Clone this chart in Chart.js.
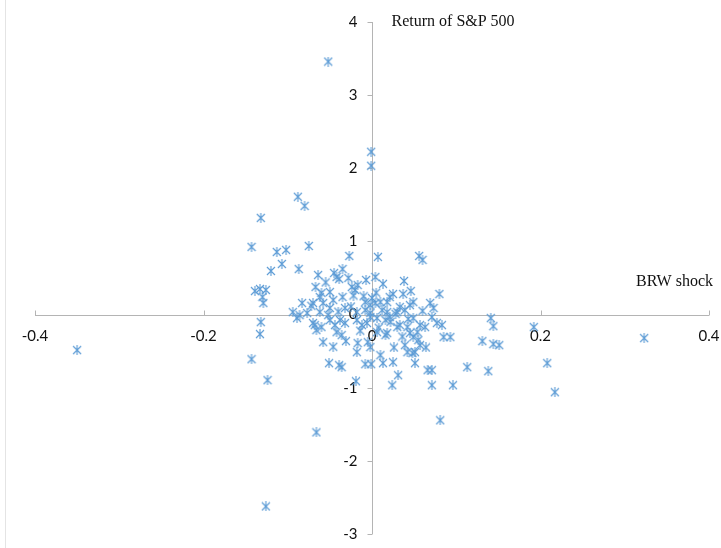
<!DOCTYPE html>
<html lang="en">
  <head>
    <meta charset="UTF-8" />
    <title>BRW shock vs S&amp;P 500</title>
    <style>
      html, body { margin: 0; padding: 0; background: #fff; }
      #wrap { position: relative; width: 721px; height: 548px; }
      #edge { position: absolute; left: 5px; top: 0; width: 1px; height: 548px; background: #e4e4e4; }
    </style>
  </head>
  <body>
    <div id="wrap">
      <div id="edge"></div>
      <canvas id="myChart" width="721" height="548"></canvas>
    </div>

    <script src="https://cdn.jsdelivr.net/npm/chart.js@4/dist/chart.umd.min.js"></script>
    <script>
      // BRW shock (x) and S&P 500 return (y)
      const brwShock = [
        -0.052, -0.001, -0.001, -0.088, -0.080, -0.132, -0.143, -0.113, -0.102, -0.075,
        -0.027, 0.007, 0.056, 0.060, -0.107, -0.120, -0.087, -0.064, -0.045, -0.042,
        -0.035, -0.039, -0.007, 0.004, 0.038, -0.067, -0.060, -0.050, -0.062, -0.024,
        -0.020, -0.017, -0.035, 0.046, 0.037, 0.080, 0.025, 0.021, 0.018, 0.000,
        0.004, 0.010, 0.049, 0.045, 0.069, 0.073, 0.033, 0.039, 0.030, 0.018,
        -0.139, -0.133, -0.126, -0.130, -0.129, -0.083, -0.070, -0.058, -0.050, -0.046,
        -0.032, -0.008, -0.002, -0.094, -0.086, -0.062, -0.052, -0.018, -0.008, -0.002,
        -0.077, -0.089, -0.132, -0.068, -0.070, -0.060, -0.066, -0.050, -0.044, -0.038,
        -0.032, -0.042, -0.036, -0.018, -0.012, -0.006, -0.002, -0.058, -0.031, -0.017,
        -0.005, -0.002, -0.018, -0.051, -0.039, -0.036, -0.008, -0.001, -0.019, 0.006,
        0.016, 0.021, 0.030, 0.033, 0.042, 0.049, 0.071, 0.077, 0.063, 0.057,
        0.006, 0.016, 0.018, 0.045, 0.049, 0.054, 0.055, 0.057, 0.085, 0.093,
        0.039, 0.042, 0.048, 0.051, 0.010, 0.013, 0.025, 0.051, 0.066, 0.071,
        0.113, 0.031, 0.024, 0.071, 0.096, 0.083, 0.141, 0.144, 0.131, 0.144,
        0.151, 0.192, 0.138, 0.208, 0.217, 0.081, -0.133, -0.143, -0.124, -0.066,
        -0.126, -0.350, 0.323,
        -0.010, 0.005, 0.012, -0.025, 0.022, 0.028, -0.040, 0.060, -0.055, -0.028,
        0.013, -0.014, 0.036, 0.064, -0.046, 0.026, 0.008, -0.072, -0.022, 0.043
      ];
      const spReturn = [
        3.459, 2.226, 2.034, 1.610, 1.486, 1.322, 0.925, 0.856, 0.884, 0.938,
        0.801, 0.788, 0.801, 0.747, 0.692, 0.596, 0.623, 0.541, 0.568, 0.514,
        0.623, 0.486, 0.473, 0.514, 0.459, 0.377, 0.295, 0.308, 0.240, 0.377,
        0.336, 0.404, 0.240, 0.322, 0.281, 0.281, 0.281, 0.240, 0.171, 0.226,
        0.158, 0.171, 0.171, 0.130, 0.158, 0.089, 0.103, 0.062, 0.034, 0.034,
        0.322, 0.349, 0.336, 0.240, 0.158, 0.158, 0.158, 0.158, 0.089, 0.199,
        0.089, 0.171, 0.130, 0.034, -0.007, 0.034, -0.007, 0.034, 0.062, 0.021,
        0.021, -0.048, -0.103, -0.144, -0.116, -0.171, -0.212, -0.075, -0.144, -0.075,
        -0.116, -0.240, -0.281, -0.075, -0.144, -0.116, -0.034, -0.377, -0.363, -0.390,
        -0.377, -0.445, -0.514, -0.664, -0.692, -0.719, -0.678, -0.678, -0.911, -0.048,
        -0.075, -0.034, -0.171, -0.144, -0.171, -0.048, -0.034, -0.116, -0.171, -0.144,
        -0.240, -0.281, -0.253, -0.253, -0.308, -0.240, -0.349, -0.418, -0.308, -0.308,
        -0.418, -0.514, -0.527, -0.514, -0.555, -0.664, -0.651, -0.664, -0.760, -0.760,
        -0.719, -0.829, -0.966, -0.966, -0.966, -0.144, -0.048, -0.158, -0.363, -0.404,
        -0.418, -0.171, -0.774, -0.664, -1.062, -1.445, -0.267, -0.610, -0.897, -1.610,
        -2.623, -0.486, -0.322,
        0.250, 0.300, 0.060, 0.110, -0.100, 0.010, 0.040, 0.050, 0.440, 0.500,
        0.420, -0.220, -0.300, -0.450, -0.440, -0.450, -0.180, 0.120, 0.260, -0.060
      ];
      const xTicks = [-0.4, -0.2, 0, 0.2, 0.4];
      const xTickLabels = ["-0.4", "-0.2", "0", "0.2", "0.4"];
      const yTicks = [-3, -2, -1, 0, 1, 2, 3, 4];
      const yTickLabels = ["-3", "-2", "-1", "0", "1", "2", "3", "4"];
      const xTitle = "BRW shock";
      const yTitle = "Return of S&P 500";

      const points = brwShock.map((x, i) => ({ x: x, y: spReturn[i] }));

      // asterisk marker like the spreadsheet one (X plus upright bar)
      function makeStar(size, color) {
        const c = document.createElement("canvas");
        c.width = size;
        c.height = size;
        const g = c.getContext("2d");
        const m = size / 2;
        g.strokeStyle = color;
        g.lineWidth = 1.1;
        g.beginPath();
        g.moveTo(1, 1); g.lineTo(size - 1, size - 1);
        g.moveTo(size - 1, 1); g.lineTo(1, size - 1);
        g.moveTo(m, 0); g.lineTo(m, size);
        g.stroke();
        return c;
      }
      const star = makeStar(10, "#5b9bd5");

      // axes crossing at the origin, drawn with the chart's own scales
      const crossAxes = {
        id: "crossAxes",
        beforeDatasetsDraw(chart) {
          const ctx = chart.ctx;
          const xs = chart.scales.x;
          const ys = chart.scales.y;
          const x0 = Math.round(xs.getPixelForValue(0)) + 0.5;
          const y0 = Math.round(ys.getPixelForValue(0)) + 0.5;
          ctx.save();
          ctx.strokeStyle = "#b4b4b4";
          ctx.lineWidth = 1;
          ctx.beginPath();
          ctx.moveTo(xs.left, y0);
          ctx.lineTo(xs.right, y0);
          ctx.moveTo(x0, ys.top);
          ctx.lineTo(x0, ys.bottom);
          xTicks.forEach(v => {
            const px = Math.round(xs.getPixelForValue(v)) + 0.5;
            ctx.moveTo(px, y0);
            ctx.lineTo(px, y0 - 5);
          });
          yTicks.forEach(v => {
            const py = Math.round(ys.getPixelForValue(v)) + 0.5;
            ctx.moveTo(x0, py);
            ctx.lineTo(x0 - 5, py);
          });
          ctx.stroke();

          ctx.fillStyle = "#111";
          ctx.font = "15px Lato, 'Open Sans', sans-serif";
          ctx.textAlign = "center";
          ctx.textBaseline = "middle";
          xTicks.forEach((v, i) => {
            ctx.fillText(xTickLabels[i], xs.getPixelForValue(v), y0 + 21);
          });
          ctx.textAlign = "right";
          yTicks.forEach((v, i) => {
            ctx.fillText(yTickLabels[i], x0 - 15, ys.getPixelForValue(v));
          });

          ctx.font = "16px 'Liberation Serif', 'Times New Roman', serif";
          ctx.textAlign = "left";
          ctx.fillText(yTitle, x0 + 19, ys.getPixelForValue(4));
          ctx.textAlign = "right";
          ctx.fillText(xTitle, xs.right + 4, y0 - 34);
          ctx.restore();
        }
      };

      const ctx = document.getElementById("myChart").getContext("2d");
      const chart = new Chart(ctx, {
        type: "scatter",
        data: {
          datasets: [
            {
              label: "BRW shock vs S&P 500",
              data: points,
              pointStyle: star,
              pointRadius: 5,
              borderColor: "#5b9bd5",
              backgroundColor: "#5b9bd5"
            }
          ]
        },
        options: {
          responsive: false,
          animation: false,
          layout: { padding: { left: 35, right: 12, top: 22, bottom: 14 } },
          plugins: { legend: { display: false }, tooltip: { enabled: false } },
          scales: {
            x: { type: "linear", min: -0.4, max: 0.4, display: false },
            y: { type: "linear", min: -3, max: 4, display: false }
          }
        },
        plugins: [crossAxes]
      });
    </script>
  </body>
</html>
